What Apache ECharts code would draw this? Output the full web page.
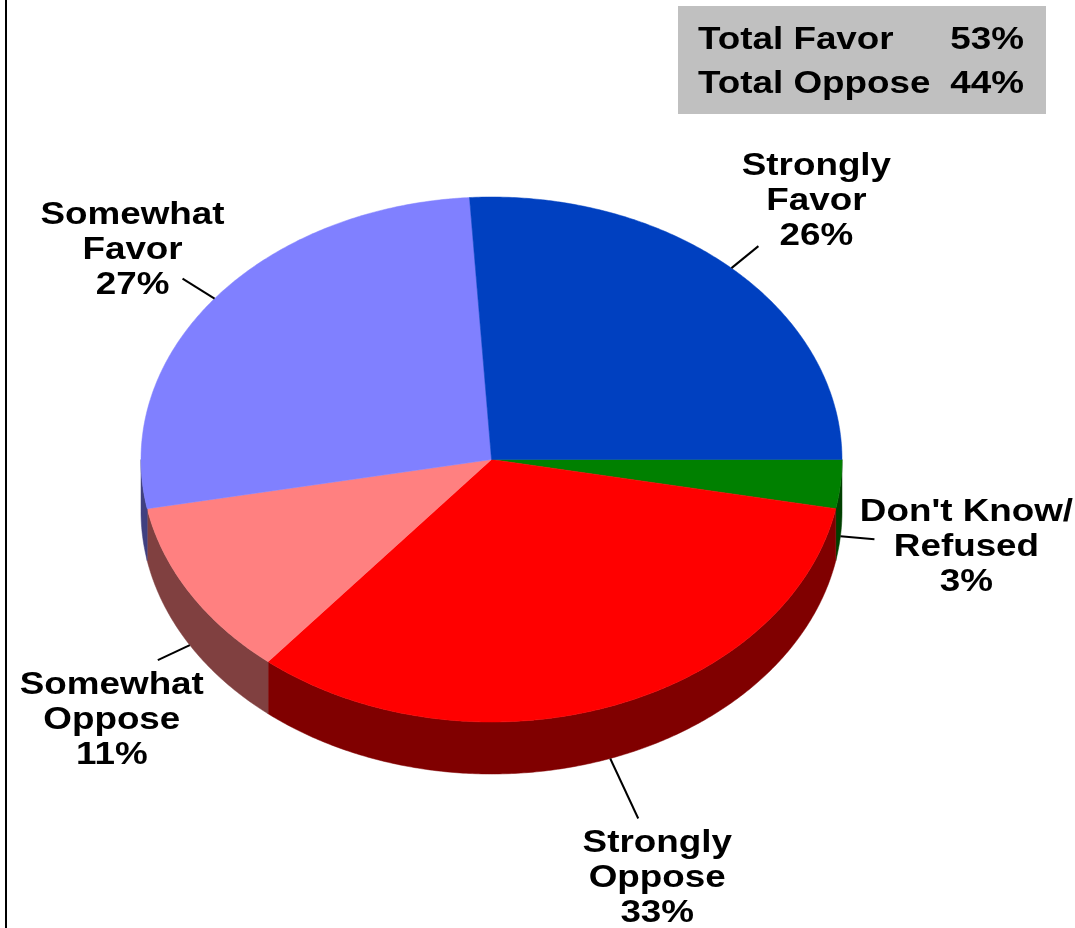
<!DOCTYPE html>
<html>
<head>
<meta charset="utf-8">
<script src="https://cdn.jsdelivr.net/npm/echarts@6/dist/echarts.min.js"></script>
<style>
  html, body { margin: 0; padding: 0; background: #ffffff; }
  #chart { width: 1075px; height: 928px; }
</style>
</head>
<body>
<div id="chart"></div>
<script>
// Survey responses, clockwise from 3 o'clock
const categories = ["Don't Know/\nRefused", 'Strongly\nOppose', 'Somewhat\nOppose', 'Somewhat\nFavor', 'Strongly\nFavor'];
const shares = [3, 33, 11, 27, 26];
const topColors = ['#008000', '#FF0000', '#FF8080', '#8080FF', '#0040C0'];
const sideColors = ['#004000', '#800000', '#804040', '#404080', '#002060'];
const totalNames = ['Total Favor', 'Total Oppose'];
const totalMembers = [[3, 4], [1, 2]];

// Pie geometry (tilted disc)
const CX = 491.5, CY = 459.5, RX = 350.5, RY = 262.5, DEPTH = 52;
const FONT = 'bold 32px "Liberation Sans", Arial, Helvetica, sans-serif';
const STRETCH = 1.15;
// leader line vector from the rim, and label centre offset from the leader end
const leaderVec = [[34, 3], [28, 60], [-32, 15], [-32, -20], [27, -22]];
const labelOff = [[92, 8], [19, 60], [-46, 60], [-50, -28], [58, -45]];

const total = shares.reduce((a, b) => a + b, 0);
const starts = [];
shares.reduce((acc, v) => { starts.push(acc); return acc + v; }, 0);
const seriesData = shares.map((v, i) => ({ name: categories[i], value: [v, starts[i]] }));

function rim(deg, dy) {
  const r = deg * Math.PI / 180;
  return [CX + RX * Math.cos(r), CY + RY * Math.sin(r) + (dy || 0)];
}
function arc(a0, a1, dy) {
  const n = Math.max(2, Math.ceil((a1 - a0) / 0.5));
  const pts = [];
  for (let k = 0; k <= n; k++) pts.push(rim(a0 + (a1 - a0) * k / n, dy));
  return pts;
}
function sliceAngles(api) {
  const v = api.value(0), s = api.value(1);
  return [s / total * 360, (s + v) / total * 360];
}

function renderSlice(params, api) {
  const i = params.dataIndex;
  const [a0, a1] = sliceAngles(api);
  const children = [];
  const s = Math.max(a0, 0), e = Math.min(a1, 180);
  if (e > s) {
    const top = arc(s, e, 0);
    const bottom = arc(s, e, DEPTH).reverse();
    children.push({
      type: 'polygon',
      shape: { points: top.concat(bottom) },
      style: { fill: sideColors[i], stroke: sideColors[i], lineWidth: 0.5 }
    });
  }
  children.push({
    type: 'polygon',
    shape: { points: [[CX, CY]].concat(arc(a0, a1, 0)) },
    style: { fill: topColors[i], stroke: topColors[i], lineWidth: 0.5 }
  });
  return { type: 'group', children };
}

function renderLabel(params, api) {
  const i = params.dataIndex;
  const [a0, a1] = sliceAngles(api);
  const mid = (a0 + a1) / 2;
  const onFront = mid > 0 && mid < 180;
  const p0 = rim(mid, onFront ? DEPTH : 0);
  const p1 = [p0[0] + leaderVec[i][0], p0[1] + leaderVec[i][1]];
  const tx = p1[0] + labelOff[i][0], ty = p1[1] + labelOff[i][1];
  return {
    type: 'group',
    children: [
      {
        type: 'line',
        shape: { x1: p0[0], y1: p0[1], x2: p1[0], y2: p1[1] },
        style: { stroke: '#000000', lineWidth: 2 }
      },
      {
        type: 'text',
        x: tx, y: ty, scaleX: STRETCH,
        style: {
          x: 0, y: 0,
          text: categories[i] + '\n' + api.value(0) + '%',
          font: FONT, fill: '#000000',
          align: 'center', verticalAlign: 'middle', lineHeight: 35
        }
      }
    ]
  };
}

const totals = totalMembers.map(m => m.reduce((a, j) => a + shares[j], 0));

const chart = echarts.init(document.getElementById('chart'), null, { renderer: 'canvas' });
chart.setOption({
  backgroundColor: '#ffffff',
  animation: false,
  graphic: [
    { type: 'rect', shape: { x: 5, y: 0, width: 2, height: 928 }, style: { fill: '#000000' } },
    { type: 'rect', shape: { x: 678, y: 6, width: 368, height: 108 }, style: { fill: '#C0C0C0' } },
    ...totalNames.map((n, k) => ({
      type: 'text', x: 698, y: 40 + k * 44, scaleX: STRETCH,
      style: { x: 0, y: 0, text: n, font: FONT, fill: '#000000', align: 'left', verticalAlign: 'middle' }
    })),
    ...totals.map((t, k) => ({
      type: 'text', x: 1024, y: 40 + k * 44, scaleX: STRETCH,
      style: { x: 0, y: 0, text: t + '%', font: FONT, fill: '#000000', align: 'right', verticalAlign: 'middle' }
    }))
  ],
  series: [
    {
      type: 'custom', name: 'slices', coordinateSystem: 'none',
      data: seriesData, renderItem: renderSlice, z: 2, silent: true
    },
    {
      type: 'custom', name: 'labels', coordinateSystem: 'none',
      data: seriesData, renderItem: renderLabel, z: 3, silent: true
    }
  ]
});
</script>
</body>
</html>
